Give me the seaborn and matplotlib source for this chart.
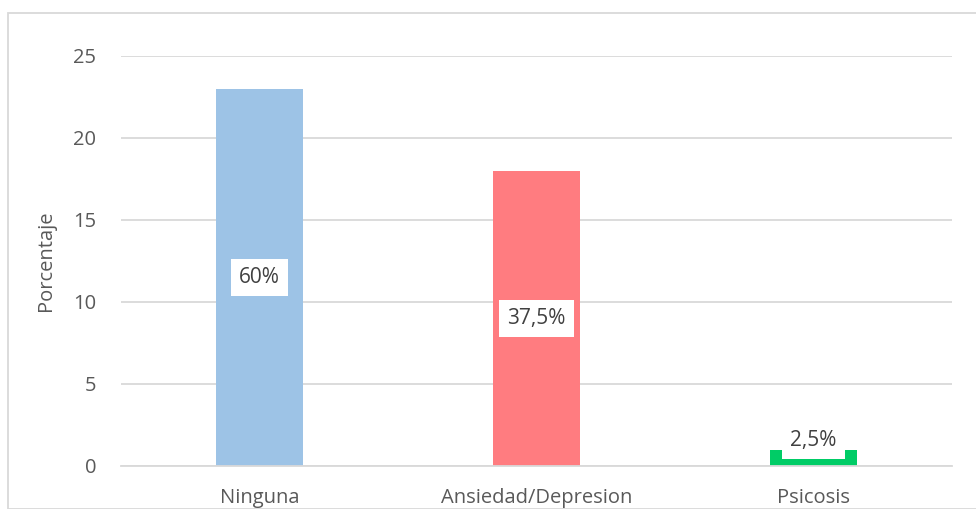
import matplotlib
matplotlib.use("Agg")
import matplotlib.pyplot as plt
import seaborn as sns
import pandas as pd
from matplotlib.patches import Rectangle

categories = ["Ninguna", "Ansiedad/Depresion", "Psicosis"]
values = [23, 18, 1]
labels = ["60%", "37,5%", "2,5%"]
colors = ["#9DC3E6", "#FF7C80", "#00CC66"]
yticks = [0, 5, 10, 15, 20, 25]

sns.set_theme(style="white")
plt.rcParams["font.family"] = ["Open Sans", "DejaVu Sans"]

df = pd.DataFrame({"cat": categories, "val": values})

fig = plt.figure(figsize=(9.76, 5.09), dpi=100)
ax = fig.add_axes([0.124, 0.0845, 0.851, 0.8055])

sns.barplot(data=df, x="cat", y="val", hue="cat", palette=colors,
            width=0.314, legend=False, ax=ax, saturation=1, linewidth=0)

ax.set_ylim(0, 25)
ax.set_yticks(yticks)
ax.set_xlim(-0.5, 2.5)
ax.grid(axis="y", color="#d9d9d9", linewidth=1.3)
ax.set_axisbelow(True)
for s in ["top", "right", "left"]:
    ax.spines[s].set_visible(False)
ax.spines["bottom"].set_color("#d9d9d9")
ax.spines["bottom"].set_linewidth(1.3)
ax.tick_params(axis="both", length=0, labelsize=14.5, labelcolor="#595959")
ax.tick_params(axis="x", pad=16)
ax.tick_params(axis="y", pad=18)
ax.set_xlabel("")
ax.set_ylabel("Porcentaje", fontsize=14.5, color="#595959", labelpad=12)

for i, (v, lab) in enumerate(zip(values, labels)):
    y = v / 2 if v > 5 else v + 0.55
    ax.text(i, y, lab, ha="center", va="center", fontsize=15, color="#404040",
            bbox=dict(facecolor="white", edgecolor="none", boxstyle="square,pad=0.4"))

fig.patches.append(Rectangle((8 / 976, 0), 1.2, 1 - 13 / 509, transform=fig.transFigure,
                             fill=False, edgecolor="#d9d9d9", linewidth=1.3))

fig.savefig("out.png", dpi=100)
